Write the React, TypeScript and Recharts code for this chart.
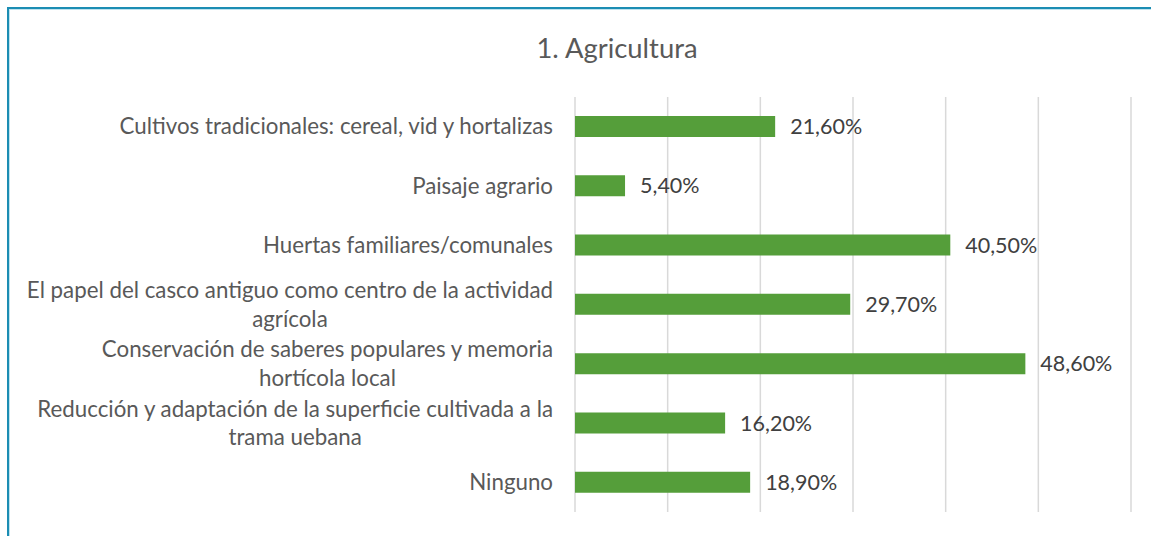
import React from "react";
import { BarChart, Bar, XAxis, YAxis, CartesianGrid, LabelList } from "recharts";

const title = "1. Agricultura";

const categories = [
  "Cultivos tradicionales: cereal, vid y hortalizas",
  "Paisaje agrario",
  "Huertas familiares/comunales",
  "El papel del casco antiguo como centro de la actividad\nagrícola",
  "Conservación de saberes populares y memoria\nhortícola local",
  "Reducción y adaptación de la superficie cultivada a la\ntrama uebana",
  "Ninguno",
];

const shares = [0.216, 0.054, 0.405, 0.297, 0.486, 0.162, 0.189];

const xTicks = [0, 0.1, 0.2, 0.3, 0.4, 0.5, 0.6];

const data = categories.map((name, i) => ({ name, value: shares[i] }));

const FONT = "Lato, 'Open Sans', sans-serif";

const fmtPct = (v: any) => `${(Number(v) * 100).toFixed(2).replace(".", ",")}%`;

function CategoryTick(props: any) {
  const { x, y, payload } = props;
  const lines = String(payload.value).split("\n");
  return (
    <foreignObject x={0} y={y - 30} width={x} height={60}>
      <div
        style={{
          display: "flex",
          justifyContent: "flex-end",
          alignItems: "center",
          height: 60,
          fontFamily: FONT,
          fontSize: 22.3,
          color: "#595959",
        }}
      >
        <div style={{ textAlign: "center", lineHeight: "28.5px", whiteSpace: "nowrap" }}>
          {lines.map((l, i) => (
            <div key={i}>{l}</div>
          ))}
        </div>
      </div>
    </foreignObject>
  );
}

export default function App() {
  return (
    <div
      style={{
        position: "fixed",
        left: 7,
        top: 7,
        width: 1160,
        height: 540,
        borderLeft: "2px solid #1b8db3",
        borderTop: "2px solid #1b8db3",
        boxSizing: "border-box",
        boxShadow: "inset 1px 1px 0 #bfe3ef",
        background: "#fff",
        overflow: "hidden",
      }}
    >
      <div
        style={{
          position: "absolute",
          left: 0,
          width: 1216,
          top: 22,
          textAlign: "center",
          fontFamily: FONT,
          fontSize: 27.4,
          color: "#595959",
        }}
      >
        {title}
      </div>
      <div style={{ position: "absolute", left: -1, top: -1 }}>
        <BarChart
          width={1143}
          height={528}
          data={data}
          layout="vertical"
          margin={{ top: 89, right: 20, bottom: 24, left: 0 }}
        >
          <CartesianGrid horizontal={false} stroke="#d9d9d9" strokeWidth={1.5} />
          <XAxis type="number" domain={[0, 0.6]} ticks={xTicks} hide />
          <YAxis
            type="category"
            dataKey="name"
            width={567}
            axisLine={false}
            tickLine={false}
            tickSize={0}
            tickMargin={22}
            interval={0}
            tick={<CategoryTick />}
          />
          <Bar dataKey="value" fill="#559e3a" barSize={21} isAnimationActive={false}>
            <LabelList
              dataKey="value"
              position="right"
              offset={15}
              formatter={fmtPct}
              style={{ fontFamily: FONT, fontSize: 21.5, fill: "#404040" }}
            />
          </Bar>
        </BarChart>
      </div>
    </div>
  );
}
